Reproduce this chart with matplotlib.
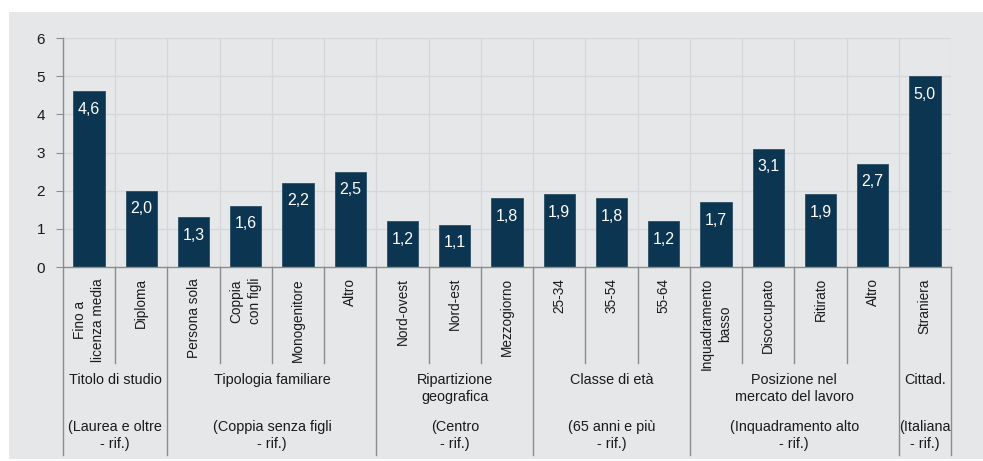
import matplotlib.pyplot as plt
from matplotlib.patches import Rectangle
import matplotlib.transforms as mtransforms

plt.rcParams['font.family'] = ['Liberation Sans Narrow', 'Liberation Sans', 'DejaVu Sans']

# dati
categorie = ["Fino a\nlicenza media", "Diploma",
             "Persona sola", "Coppia\ncon figli", "Monogenitore", "Altro",
             "Nord-ovest", "Nord-est", "Mezzogiorno",
             "25-34", "35-54", "55-64",
             "Inquadramento\nbasso", "Disoccupato", "Ritirato", "Altro",
             "Straniera"]
valori = [4.6, 2.0, 1.3, 1.6, 2.2, 2.5, 1.2, 1.1, 1.8, 1.9, 1.8, 1.2,
          1.7, 3.1, 1.9, 2.7, 5.0]
gruppi = ["Titolo di studio", "Tipologia familiare", "Ripartizione\ngeografica",
          "Classe di età", "Posizione nel\nmercato del lavoro", "Cittad."]
riferimenti = ["(Laurea e oltre\n- rif.)", "(Coppia senza figli\n- rif.)",
               "(Centro\n- rif.)", "(65 anni e più\n- rif.)",
               "(Inquadramento alto\n- rif.)", "(Italiana\n- rif.)"]
dim_gruppi = [2, 4, 3, 3, 4, 1]
y_ticks = [0, 1, 2, 3, 4, 5, 6]

BG = '#e6e7e8'
BAR = '#0b3550'
GRID = '#d6d7d9'
LINE = '#8c8c8c'
TXT = '#1a1a1a'

W, H = 983, 461
fig = plt.figure(figsize=(W / 100, H / 100), dpi=100, facecolor='white')
fig.patches.append(Rectangle((9 / W, 2 / H), 1 - 9 / W, 1 - 14 / H,
                             transform=fig.transFigure, facecolor=BG,
                             edgecolor='none', zorder=-10))

ax = fig.add_axes([63 / W, 1 - 267 / H, (951 - 63) / W, (267 - 38) / H])
ax.set_facecolor(BG)

n = len(categorie)
x = list(range(n))
ax.bar(x, valori, width=0.6, color=BAR, edgecolor='#2d4f66', linewidth=0.6, zorder=3)

for xi, v in zip(x, valori):
    ax.text(xi, v - 0.47, f"{v:.1f}".replace('.', ','), ha='center', va='center',
            color='white', fontsize=11.5, zorder=4)

ax.set_xlim(-0.5, n - 0.5)
ax.set_ylim(0, 6)
ax.set_yticks(y_ticks)
ax.set_yticklabels([str(t) for t in y_ticks])
ax.tick_params(axis='y', length=5, width=0.8, color=LINE, pad=8, labelsize=11,
               labelcolor=TXT)
ax.set_xticks(x)
ax.set_xticklabels(categorie, rotation=90, multialignment='center', linespacing=1.4)
ax.tick_params(axis='x', length=0, pad=8, labelsize=9.8, labelcolor=TXT)

# griglia
for t in y_ticks[1:]:
    ax.axhline(t, color=GRID, linewidth=0.9, zorder=1)
for b in range(n + 1):
    ax.axvline(b - 0.5, color=GRID, linewidth=0.9, zorder=1)

for s in ['top', 'right']:
    ax.spines[s].set_visible(False)
ax.spines['left'].set_color(LINE)
ax.spines['bottom'].set_color(LINE)
ax.spines['left'].set_linewidth(1.0)
ax.spines['bottom'].set_linewidth(1.0)
ax.spines['left'].set_zorder(5)
ax.spines['bottom'].set_zorder(5)

trans = mtransforms.blended_transform_factory(ax.transData, ax.transAxes)
inner_bottom = (267 - 363) / (267 - 38)
outer_bottom = (267 - 455) / (267 - 38)

# separatori sotto l'asse
start = 0
confini = [-0.5]
for d in dim_gruppi:
    for k in range(1, d):
        xb = start + k - 0.5
        ax.plot([xb, xb], [0, inner_bottom], transform=trans, color=LINE,
                linewidth=1.0, clip_on=False)
    start += d
    confini.append(start - 0.5)
for xb in confini:
    ax.plot([xb, xb], [0, outer_bottom], transform=trans, color=LINE,
            linewidth=1.0, clip_on=False)

# etichette dei gruppi
for i, (g, r) in enumerate(zip(gruppi, riferimenti)):
    xc = (confini[i] + confini[i + 1]) / 2
    ax.text(xc, (267 - 373) / (267 - 38), g, transform=trans, ha='center',
            va='top', fontsize=10.4, color=TXT, linespacing=1.3)
    ax.text(xc, (267 - 420) / (267 - 38), r, transform=trans, ha='center',
            va='top', fontsize=10.4, color=TXT, linespacing=1.3)

fig.savefig('out.png', dpi=100, facecolor='white')
